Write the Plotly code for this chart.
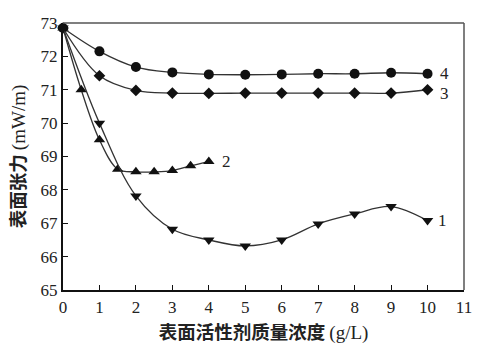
import plotly.graph_objects as go

# Data
x_main = [0, 1, 2, 3, 4, 5, 6, 7, 8, 9, 10]
s4 = [72.85, 72.15, 71.68, 71.52, 71.46, 71.45, 71.46, 71.48, 71.48, 71.51, 71.48]
s3 = [72.85, 71.42, 70.98, 70.9, 70.89, 70.9, 70.9, 70.9, 70.9, 70.9, 71.0]
x2 = [0, 0.5, 1, 1.5, 2, 2.5, 3, 3.5, 4]
s2 = [72.85, 71.0, 69.5, 68.62, 68.54, 68.54, 68.58, 68.72, 68.85]
s1 = [72.85, 70.0, 67.82, 66.82, 66.5, 66.32, 66.5, 66.98, 67.28, 67.5, 67.08]

series_labels = ["1", "2", "3", "4"]
x_ticks = list(range(0, 12))
y_ticks = list(range(65, 74))

fig = go.Figure()
line_col = "#333333"
mk_col = "#111111"

def add(x, y, symbol, size):
    fig.add_trace(go.Scatter(
        x=x, y=y, mode="lines+markers",
        line=dict(color=line_col, width=1.3, shape="spline", smoothing=1.0),
        marker=dict(symbol=symbol, size=size, color=mk_col),
        showlegend=False, cliponaxis=False))

add(x_main, s4, "circle", 10)
add(x_main, s3, "diamond", 9)
add(x2, s2, "triangle-up", 10)
add(x_main, s1, "triangle-down", 10)

serif = "Liberation Serif, Times New Roman, serif"
cjk = "Noto Sans CJK SC"

ann_pos = {
    "4": (10.28, s4[-1]),
    "3": (10.28, s3[-1] - 0.1),
    "2": (x2[-1] + 0.3, s2[-1]),
    "1": (10.22, s1[-1]),
}
for lab in series_labels:
    ax_, ay_ = ann_pos[lab]
    fig.add_annotation(x=ax_, y=ay_, text=lab, showarrow=False,
                       xanchor="left", yanchor="middle",
                       font=dict(family=serif, size=17, color="#222222"))

xt = ("<b>表面活性剂质量浓度</b> "
      "<span style='font-family:Liberation Serif;font-size:19px'>(g/L)</span>")
yt = ("<b>表面张力</b> "
      "<span style='font-family:Liberation Serif;font-size:19px'>(mW/m)</span>")

fig.update_xaxes(range=[0, 11], tickmode="array", tickvals=x_ticks,
                 ticks="inside", ticklen=5, tickwidth=1.2, tickcolor="#111111",
                 showline=True, linewidth=2.2, linecolor="#111111",
                 showgrid=False, zeroline=False,
                 tickfont=dict(family=serif, size=17, color="#222222"),
                 title=dict(text=xt, standoff=11,
                            font=dict(family=cjk, size=18.5, color="#222222")))
fig.update_yaxes(range=[65, 73], tickmode="array", tickvals=y_ticks,
                 ticks="inside", ticklen=5, tickwidth=1.2, tickcolor="#111111",
                 showline=True, linewidth=2.2, linecolor="#111111",
                 showgrid=False, zeroline=False,
                 tickfont=dict(family=serif, size=17, color="#222222"),
                 title=dict(text=yt, standoff=10,
                            font=dict(family=cjk, size=18.5, color="#222222")))

# thinner top/right frame
fig.add_shape(type="line", xref="x domain", yref="y domain", x0=0, x1=1, y0=1, y1=1,
              line=dict(color="#555555", width=1.5))
fig.add_shape(type="line", xref="x domain", yref="y domain", x0=1, x1=1, y0=0, y1=1,
              line=dict(color="#555555", width=1.5))

fig.update_layout(width=490, height=352,
                  margin=dict(l=63, r=26, t=23, b=62),
                  paper_bgcolor="white", plot_bgcolor="white")

fig.write_html("out.html")
